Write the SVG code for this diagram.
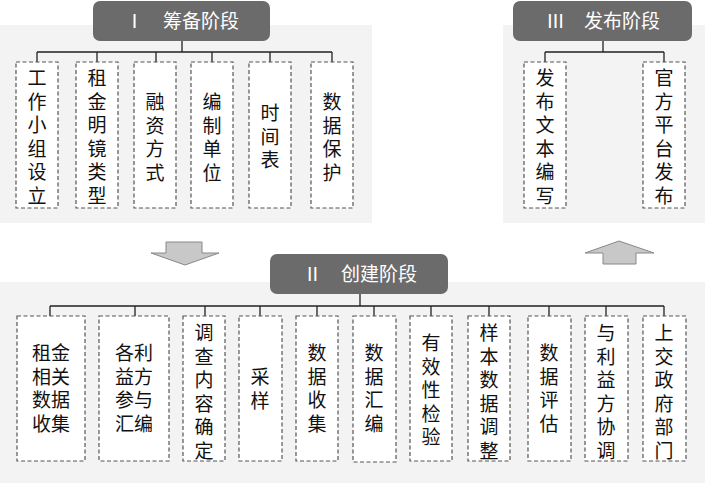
<svg xmlns="http://www.w3.org/2000/svg" width="705" height="483" viewBox="0 0 705 483">
<style>
.panel{fill:#f3f3f3}
.hdr{fill:#6b6b6b}
.ht{fill:#fff;font-family:"Noto Sans CJK SC",sans-serif;font-size:19px;text-anchor:middle}
.box{fill:#fff;stroke:#555;stroke-width:1.2;stroke-dasharray:4,2.5}
.t{fill:#111;font-family:"Noto Sans CJK SC",sans-serif;font-size:19px;text-anchor:middle}
.ln{stroke:#222;stroke-width:1.3;fill:none}
.arr{fill:#c8c8c8;stroke:#888;stroke-width:1}
</style>
<rect width="705" height="483" fill="#fff"/>
<rect class="panel" x="0" y="25" width="372" height="198"/>
<rect class="panel" x="503" y="25" width="202" height="198"/>
<rect class="panel" x="0" y="282" width="705" height="201"/>
<g id="connectors">
<path class="ln" d="M182 41V52M37 52H332M37 52V62M97 52V62M156 52V62M212 52V62M270 52V62M332 52V62"/>
<path class="ln" d="M603 41V52M545 52H664M545 52V62M664 52V62"/>
<path class="ln" d="M360 294V306M50 306H664M50 306V316M135 306V316M205 306V316M260 306V316M317 306V316M374 306V316M431 306V316M489 306V316M549 306V316M606 306V316M664 306V316"/>
<polygon class="arr" points="166,242 202,242 202,253 219,253 185,265 151,253 166,253"/>
<polygon class="arr" points="603,264 636,264 636,253 654,253 619,241 585,253 603,253"/>
</g>
<g id="h1"><rect class="hdr" x="93" y="1" width="177" height="40" rx="7"/><text class="ht" x="182" y="28">Ⅰ　筹备阶段</text></g>
<g id="h3"><rect class="hdr" x="513" y="1" width="179" height="40" rx="7"/><text class="ht" x="603" y="28">Ⅲ　发布阶段</text></g>
<g id="h2"><rect class="hdr" x="270" y="254" width="178" height="40" rx="7"/><text class="ht" x="360" y="281">Ⅱ　创建阶段</text></g>
<g id="a1"><rect class="box" x="16" y="62" width="42" height="146"/><text class="t"><tspan x="37" y="85">工</tspan><tspan x="37" dy="23.5">作</tspan><tspan x="37" dy="23.5">小</tspan><tspan x="37" dy="23.5">组</tspan><tspan x="37" dy="23.5">设</tspan><tspan x="37" dy="23.5">立</tspan></text></g>
<g id="a2"><rect class="box" x="76" y="62" width="42" height="146"/><text class="t"><tspan x="97" y="85">租</tspan><tspan x="97" dy="23.5">金</tspan><tspan x="97" dy="23.5">明</tspan><tspan x="97" dy="23.5">镜</tspan><tspan x="97" dy="23.5">类</tspan><tspan x="97" dy="23.5">型</tspan></text></g>
<g id="a3"><rect class="box" x="134" y="62" width="42" height="146"/><text class="t"><tspan x="155" y="109">融</tspan><tspan x="155" dy="23.5">资</tspan><tspan x="155" dy="23.5">方</tspan><tspan x="155" dy="23.5">式</tspan></text></g>
<g id="a4"><rect class="box" x="191" y="62" width="42" height="146"/><text class="t"><tspan x="212" y="109">编</tspan><tspan x="212" dy="23.5">制</tspan><tspan x="212" dy="23.5">单</tspan><tspan x="212" dy="23.5">位</tspan></text></g>
<g id="a5"><rect class="box" x="249" y="62" width="42" height="146"/><text class="t"><tspan x="270" y="120">时</tspan><tspan x="270" dy="23.5">间</tspan><tspan x="270" dy="23.5">表</tspan></text></g>
<g id="a6"><rect class="box" x="311" y="62" width="42" height="146"/><text class="t"><tspan x="332" y="109">数</tspan><tspan x="332" dy="23.5">据</tspan><tspan x="332" dy="23.5">保</tspan><tspan x="332" dy="23.5">护</tspan></text></g>
<g id="c1"><rect class="box" x="524" y="62" width="42" height="146"/><text class="t"><tspan x="545" y="85">发</tspan><tspan x="545" dy="23.5">布</tspan><tspan x="545" dy="23.5">文</tspan><tspan x="545" dy="23.5">本</tspan><tspan x="545" dy="23.5">编</tspan><tspan x="545" dy="23.5">写</tspan></text></g>
<g id="c2"><rect class="box" x="643" y="62" width="42" height="146"/><text class="t"><tspan x="664" y="85">官</tspan><tspan x="664" dy="23.5">方</tspan><tspan x="664" dy="23.5">平</tspan><tspan x="664" dy="23.5">台</tspan><tspan x="664" dy="23.5">发</tspan><tspan x="664" dy="23.5">布</tspan></text></g>
<g id="b1"><rect class="box" x="17" y="316" width="68" height="145"/><text class="t"><tspan x="51" y="360">租金</tspan><tspan x="51" dy="23.5">相关</tspan><tspan x="51" dy="23.5">数据</tspan><tspan x="51" dy="23.5">收集</tspan></text></g>
<g id="b2"><rect class="box" x="99" y="316" width="70" height="145"/><text class="t"><tspan x="134" y="360">各利</tspan><tspan x="134" dy="23.5">益方</tspan><tspan x="134" dy="23.5">参与</tspan><tspan x="134" dy="23.5">汇编</tspan></text></g>
<g id="b3"><rect class="box" x="183" y="316" width="42" height="145"/><text class="t"><tspan x="204" y="340">调</tspan><tspan x="204" dy="23.5">查</tspan><tspan x="204" dy="23.5">内</tspan><tspan x="204" dy="23.5">容</tspan><tspan x="204" dy="23.5">确</tspan><tspan x="204" dy="23.5">定</tspan></text></g>
<g id="b4"><rect class="box" x="239" y="316" width="43" height="145"/><text class="t"><tspan x="260" y="384">采</tspan><tspan x="260" dy="23.5">样</tspan></text></g>
<g id="b5"><rect class="box" x="296" y="316" width="42" height="145"/><text class="t"><tspan x="317" y="360">数</tspan><tspan x="317" dy="23.5">据</tspan><tspan x="317" dy="23.5">收</tspan><tspan x="317" dy="23.5">集</tspan></text></g>
<g id="b6"><rect class="box" x="353" y="316" width="43" height="146"/><text class="t"><tspan x="374" y="360">数</tspan><tspan x="374" dy="23.5">据</tspan><tspan x="374" dy="23.5">汇</tspan><tspan x="374" dy="23.5">编</tspan></text></g>
<g id="b7"><rect class="box" x="410" y="316" width="42" height="145"/><text class="t"><tspan x="431" y="350">有</tspan><tspan x="431" dy="23.5">效</tspan><tspan x="431" dy="23.5">性</tspan><tspan x="431" dy="23.5">检</tspan><tspan x="431" dy="23.5">验</tspan></text></g>
<g id="b8"><rect class="box" x="468" y="316" width="42" height="145"/><text class="t"><tspan x="489" y="340">样</tspan><tspan x="489" dy="23.5">本</tspan><tspan x="489" dy="23.5">数</tspan><tspan x="489" dy="23.5">据</tspan><tspan x="489" dy="23.5">调</tspan><tspan x="489" dy="23.5">整</tspan></text></g>
<g id="b9"><rect class="box" x="528" y="316" width="43" height="145"/><text class="t"><tspan x="549" y="360">数</tspan><tspan x="549" dy="23.5">据</tspan><tspan x="549" dy="23.5">评</tspan><tspan x="549" dy="23.5">估</tspan></text></g>
<g id="b10"><rect class="box" x="585" y="316" width="43" height="145"/><text class="t"><tspan x="606" y="340">与</tspan><tspan x="606" dy="23.5">利</tspan><tspan x="606" dy="23.5">益</tspan><tspan x="606" dy="23.5">方</tspan><tspan x="606" dy="23.5">协</tspan><tspan x="606" dy="23.5">调</tspan></text></g>
<g id="b11"><rect class="box" x="643" y="316" width="43" height="145"/><text class="t"><tspan x="664" y="340">上</tspan><tspan x="664" dy="23.5">交</tspan><tspan x="664" dy="23.5">政</tspan><tspan x="664" dy="23.5">府</tspan><tspan x="664" dy="23.5">部</tspan><tspan x="664" dy="23.5">门</tspan></text></g>
</svg>
